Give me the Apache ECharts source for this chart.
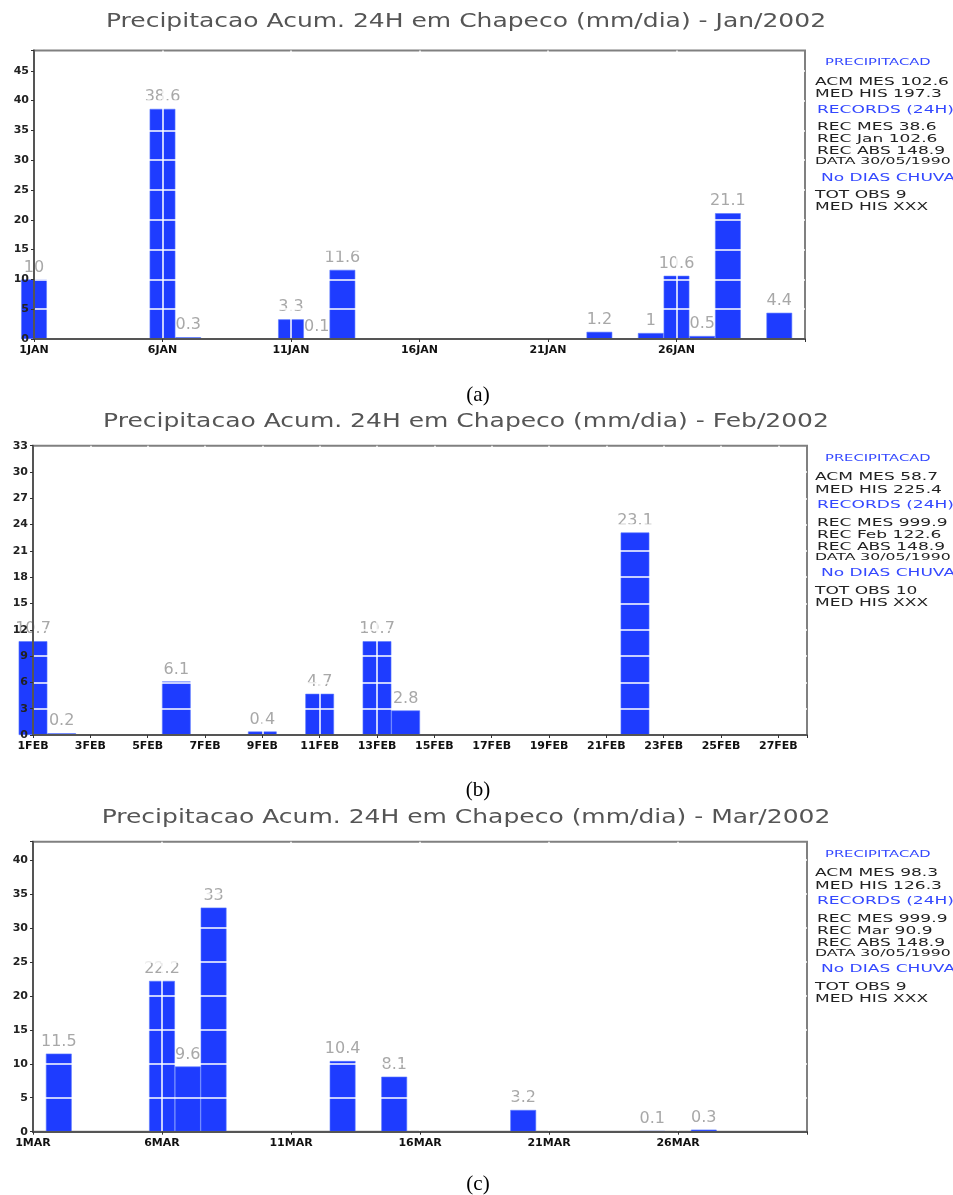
<!DOCTYPE html>
<html><head><meta charset="utf-8">
<script src="https://cdn.jsdelivr.net/npm/echarts@6/dist/echarts.min.js"></script>
<style>html,body{margin:0;padding:0;background:#fff}#c{width:953px;height:1195px}</style>
</head><body><div id="c"></div>
<script>
// ---- data ----
const janDays   = [1, 6, 7, 11, 12, 13, 23, 25, 26, 27, 28, 30];
const janValues = [10, 38.6, 0.3, 3.3, 0.1, 11.6, 1.2, 1, 10.6, 0.5, 21.1, 4.4];
const febDays   = [1, 2, 6, 9, 11, 13, 14, 22];
const febValues = [10.7, 0.2, 6.1, 0.4, 4.7, 10.7, 2.8, 23.1];
const marDays   = [2, 6, 7, 8, 13, 15, 20, 25, 27];
const marValues = [11.5, 22.2, 9.6, 33, 10.4, 8.1, 3.2, 0.1, 0.3];
const monthTags = ['JAN', 'FEB', 'MAR'];
const titles = [
  'Precipitacao Acum. 24H em Chapeco (mm/dia) - Jan/2002',
  'Precipitacao Acum. 24H em Chapeco (mm/dia) - Feb/2002',
  'Precipitacao Acum. 24H em Chapeco (mm/dia) - Mar/2002'
];
const captions = ['(a)', '(b)', '(c)'];
const janSide = ['PRECIPITACAD','ACM MES 102.6','MED HIS 197.3','RECORDS (24H)','REC MES 38.6','REC Jan 102.6','REC ABS 148.9','DATA 30/05/1990','No DIAS CHUVA','TOT OBS 9','MED HIS XXX'];
const febSide = ['PRECIPITACAD','ACM MES 58.7','MED HIS 225.4','RECORDS (24H)','REC MES 999.9','REC Feb 122.6','REC ABS 148.9','DATA 30/05/1990','No DIAS CHUVA','TOT OBS 10','MED HIS XXX'];
const marSide = ['PRECIPITACAD','ACM MES 98.3','MED HIS 126.3','RECORDS (24H)','REC MES 999.9','REC Mar 90.9','REC ABS 148.9','DATA 30/05/1990','No DIAS CHUVA','TOT OBS 9','MED HIS XXX'];
const dayMin = [1, 1, 1];
const dayMax = [31, 28, 31];
const dayStep = [5, 2, 5];
const yMax = [48.4, 33, 42.7];
const yStep = [5, 3, 5];

// ---- layout (styles only) ----
const days = [janDays, febDays, marDays];
const vals = [janValues, febValues, marValues];
const sides = [janSide, febSide, marSide];
const W = 953;
const grids = [
  {left: 34, top: 50.5, right: 148, height: 288.5},
  {left: 33, top: 445.7, right: 146, height: 289.3},
  {left: 33, top: 841.7, right: 146, height: 290}
];
const titleY = [22.5, 422, 818];
const captionY = [395, 790, 1184];
const sideDY = [12.5, 31.5, 44, 59.5, 77, 89, 101, 111.5, 127.5, 145, 157];
const sideX  = [825, 815, 815, 817, 817, 817, 817, 815, 821, 815, 815];
const headerIdx = [0, 3, 8];

const isTick = (v, base, step) => Math.abs((v - base) / step - Math.round((v - base) / step)) < 1e-6;

const option = {
  animation: false,
  backgroundColor: '#fff',
  grid: grids.map(g => Object.assign({show: true, borderColor: '#808080', borderWidth: 2, backgroundColor: 'transparent'}, g)),
  xAxis: [],
  yAxis: grids.map((g, i) => ({
    type: 'value', gridIndex: i, min: 0, max: yMax[i], interval: yStep[i], z: 3,
    axisLine: {show: true, lineStyle: {color: '#555', width: 2}},
    axisTick: {show: true, length: 3, lineStyle: {color: '#333'}},
    axisLabel: {
      margin: 5, fontSize: 11, fontWeight: 'bold', color: '#222', fontFamily: 'DejaVu Sans',
      formatter: v => isTick(v, 0, yStep[i]) ? String(Math.round(v)) : ''
    },
    splitLine: {show: true, showMinLine: false, showMaxLine: false, lineStyle: {color: '#fff', width: 1.5}}
  })),
  series: grids.map((g, i) => {
    const pxPerDay = (W - g.left - g.right) / (dayMax[i] - dayMin[i]);
    return {
      type: 'bar', xAxisIndex: i, yAxisIndex: i, clip: true,
      barWidth: pxPerDay,
      data: days[i].map((d, k) => [d, vals[i][k]]),
      itemStyle: {color: '#1e3cff', borderColor: '#5a78ff', borderWidth: 0.6},
      label: {
        show: true, position: 'top', distance: 4, fontSize: 16, color: '#a8a8a8', fontFamily: 'DejaVu Sans',
        formatter: p => String(p.value[1])
      }
    };
  }),
  graphic: []
};

grids.forEach((g, i) => {
  option.xAxis.push({
    type: 'value', gridIndex: i, min: dayMin[i], max: dayMax[i], interval: dayStep[i], z: 3,
    axisLine: {show: true, onZero: false, lineStyle: {color: '#555', width: 2}},
    axisTick: {show: true, length: 3, lineStyle: {color: '#333'}},
    axisLabel: {
      margin: 6, fontSize: 11, fontWeight: 'bold', color: '#111', fontFamily: 'DejaVu Sans',
      formatter: v => (isTick(v, dayMin[i], dayStep[i]) && v < dayMax[i]) ? v + monthTags[i] : ''
    },
    splitLine: {show: true, showMinLine: false, showMaxLine: false, lineStyle: {color: '#fff', width: 1.5}}
  });
});

grids.forEach((g, i) => {
  option.graphic.push({
    type: 'text', x: 466, y: titleY[i], scaleX: 1.315,
    style: {text: titles[i], fontSize: 19, fontFamily: 'DejaVu Sans', fill: '#555',
      align: 'center', verticalAlign: 'middle', textAlign: 'center', textVerticalAlign: 'middle'}
  });
  option.graphic.push({
    type: 'text', x: 478, y: captionY[i],
    style: {text: captions[i], fontSize: 21, fontFamily: 'Liberation Serif', fill: '#000',
      align: 'center', verticalAlign: 'middle', textAlign: 'center', textVerticalAlign: 'middle'}
  });
  sides[i].forEach((t, k) => {
    const isHead = headerIdx.indexOf(k) >= 0;
    const isData = k === 7;
    let fs = 11, sx = 1.55, col = '#222';
    if (isHead) { col = '#3448ff'; fs = (k === 0) ? 9.5 : 11; sx = 1.55; }
    if (isData) { fs = 9.5; sx = 1.65; }
    option.graphic.push({
      type: 'text', x: sideX[k], y: g.top + sideDY[k], scaleX: sx,
      style: {text: t, fontSize: fs, fontFamily: 'DejaVu Sans', fill: col,
        align: 'left', verticalAlign: 'middle', textAlign: 'left', textVerticalAlign: 'middle'}
    });
  });
});

const chart = echarts.init(document.getElementById('c'), null, {renderer: 'canvas'});
chart.setOption(option);
</script>
</body></html>
